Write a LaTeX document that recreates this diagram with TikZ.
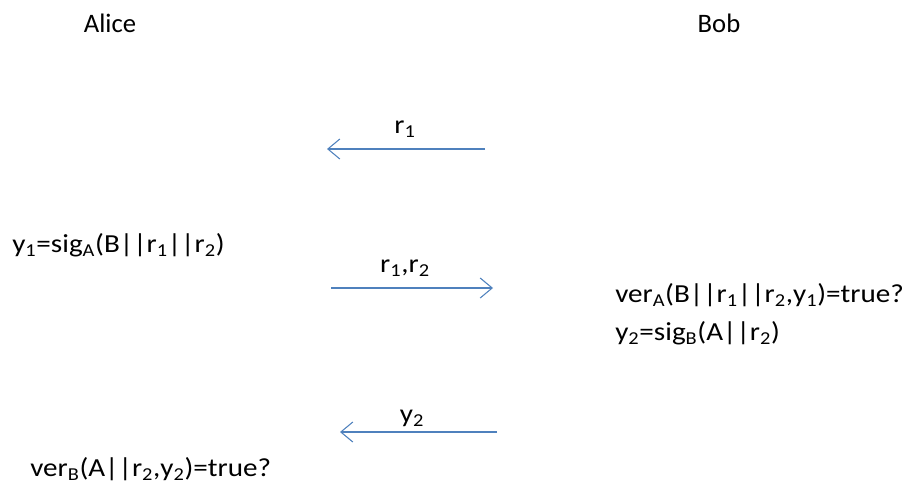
\documentclass[tikz,border=0pt]{standalone}
\usepackage{fontspec}
\setmainfont{Carlito}
\newfontfamily\widefont{Carlito}[FakeStretch=1.12]
\usetikzlibrary{arrows.meta,positioning}
\definecolor{msgblue}{RGB}{79,129,189}

\begin{document}
\begin{tikzpicture}[
  x=0.75pt, y=-0.75pt,
  font=\widefont\fontsize{19.5}{21}\selectfont,
  >={Straight Barb[length=9pt, width=15pt, line width=0.8pt]},
  party/.style={inner sep=0pt, anchor=base, font=\rmfamily\fontsize{20}{20}\selectfont},
  calcnote/.style={inner sep=0pt, anchor=base west, align=left},
  msglabel/.style={inner sep=0pt, anchor=base},
  msg/.style={->, draw=msgblue, line width=1pt},
]
\useasboundingbox (0,0) rectangle (919,489);

% Parties
\node[party] (alice) at (110,32) {Alice};
\node[party] (bob)   at (719,32) {Bob};

% Computations on each side
\node[calcnote] (sigA) at (12,252)  {y\textsubscript{1}=sig\textsubscript{A}(B||r\textsubscript{1}||r\textsubscript{2})};
\node[calcnote] (verA) at (615,340) {ver\textsubscript{A}(B||r\textsubscript{1}||r\textsubscript{2},y\textsubscript{1})=true?\\[7pt]y\textsubscript{2}=sig\textsubscript{B}(A||r\textsubscript{2})};
\node[calcnote] (verB) at (30,476)  {ver\textsubscript{B}(A||r\textsubscript{2},y\textsubscript{2})=true?};

% Message ends
\coordinate (m1from) at (485,149);
\coordinate (m1to)   at (327,149);
\coordinate (m2from) at (331,288);
\coordinate (m2to)   at (493,288);
\coordinate (m3from) at (497,432);
\coordinate (m3to)   at (340,432);

% Messages
\draw[msg] (m1from) -- (m1to);
\node[msglabel] (r1)   at (405,133) {r\textsubscript{1}};
\draw[msg] (m2from) -- (m2to);
\node[msglabel] (r1r2) at (405,272) {r\textsubscript{1},r\textsubscript{2}};
\draw[msg] (m3from) -- (m3to);
\node[msglabel] (y2)   at (412,422) {y\textsubscript{2}};

\end{tikzpicture}
\end{document}
